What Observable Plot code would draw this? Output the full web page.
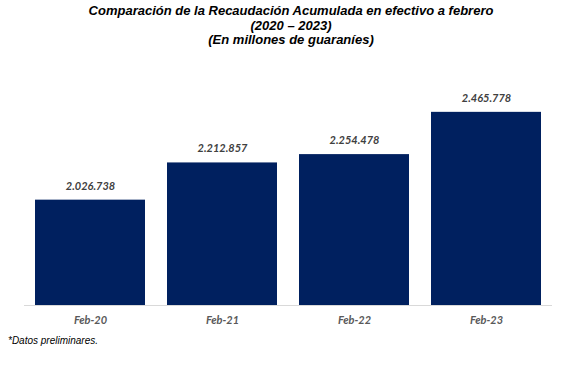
<!DOCTYPE html>
<html>
<head>
<meta charset="utf-8">
<script src="https://cdn.jsdelivr.net/npm/d3@7"></script>
<script src="https://cdn.jsdelivr.net/npm/@observablehq/plot@0.6"></script>
<style>
  html, body { margin: 0; padding: 0; background: #fff; }
  #wrap { width: 575px; height: 369px; position: relative; overflow: hidden; }
  #title { position: absolute; left: 0; top: 4px; width: 582px; text-align: center;
    font-family: "Liberation Sans", Arial, sans-serif; font-weight: bold; font-style: italic;
    font-size: 13px; line-height: 14.5px; color: #000; }
  #chart { position: absolute; left: 0; top: 52px; }
  #note { position: absolute; left: 8px; top: 335px; font-family: "Liberation Sans", Arial, sans-serif;
    font-style: italic; font-size: 10px; color: #000; }
</style>
</head>
<body>
<div id="wrap">
  <div id="title">Comparación de la Recaudación Acumulada en efectivo a febrero<br>(2020 – 2023)<br>(En millones de guaraníes)</div>
  <div id="chart"></div>
  <div id="note">*Datos preliminares.</div>
</div>
<script>
const categories = ["Feb-20", "Feb-21", "Feb-22", "Feb-23"];
const values = [2026738, 2212857, 2254478, 2465778];
const yDomain = [1500000, 2500000];

const data = categories.map((c, i) => ({cat: c, value: values[i]}));
const fmt = d3.formatLocale({thousands: ".", decimal: ",", grouping: [3], currency: ["", ""]}).format(",d");

const chart = Plot.plot({
  width: 575,
  height: 282,
  marginLeft: 24,
  marginRight: 23,
  marginTop: 53,
  marginBottom: 29,
  style: {fontFamily: "Lato, sans-serif", background: "transparent"},
  x: {domain: categories, paddingInner: 0.167, paddingOuter: 0.0835, label: null},
  y: {domain: yDomain, axis: null},
  marks: [
    Plot.barY(data, {x: "cat", y: "value", fill: "#00205f", clip: true}),
    Plot.ruleY([yDomain[0]], {stroke: "#d9d9d9", strokeWidth: 1}),
    Plot.text(data, {x: "cat", y: "value", text: d => fmt(d.value), dy: -14,
      fontSize: 11, fontWeight: "bold", fontStyle: "italic", fill: "#404040"}),
    Plot.axisX({tickSize: 0, tickPadding: 11, fontSize: 11, fontWeight: "bold",
      fontStyle: "italic", color: "#595959", label: null})
  ]
});
document.getElementById("chart").appendChild(chart);
</script>
</body>
</html>
